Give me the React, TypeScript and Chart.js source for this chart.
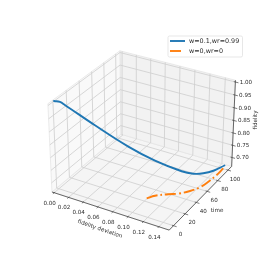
import React, { useEffect, useRef } from "react";
import { Chart, registerables } from "chart.js";

Chart.register(...registerables);

// Series
const blueDeviation = [-0.0016, 0.0036, 0.0073, 0.0312, 0.0618, 0.0876, 0.1139, 0.1253, 0.1344, 0.1423, 0.1482];
const blueTime = [0, 3, 6, 24, 41, 54, 67, 73, 79, 87, 100];
const blueFidelity = [1.0045, 0.9994, 0.9855, 0.8928, 0.8012, 0.7405, 0.6936, 0.6811, 0.6782, 0.6787, 0.678];
const orangeDeviation = [0.1039, 0.1094, 0.1212, 0.1305, 0.1396, 0.1459, 0.1488, 0.1505, 0.1504];
const orangeTime = [18.9, 25.9, 33.5, 38.6, 47.2, 56.7, 68.2, 81.5, 94.4];
const orangeFidelity = [0.6803, 0.6803, 0.6803, 0.6803, 0.6803, 0.6803, 0.6803, 0.6803, 0.6803];

// Axes
const xLim = [0, 0.15];
const yLim = [-5, 105];
const zLim = [0.67, 1.0];
const xTicks = [0, 0.02, 0.04, 0.06, 0.08, 0.1, 0.12, 0.14];
const yTicks = [0, 20, 40, 60, 80, 100];
const zTicks = [0.7, 0.75, 0.8, 0.85, 0.9, 0.95, 1.0];
const seriesNames = ["w=0.1,wr=0.99", "w=0,wr=0"];
const axisTitles = ["fidelity deviation", "time", "fidelity"];

const pad = (l: number[]) => (l[1] - l[0]) / 48;
const x0 = xLim[0] - pad(xLim), x1 = xLim[1] + pad(xLim);
const y0 = yLim[0] - pad(yLim), y1 = yLim[1] + pad(yLim);
const z0 = zLim[0] - pad(zLim), z1 = zLim[1] + pad(zLim);

// matplotlib's mplot3d view (elev 30, azim -60, dist 10, box aspect 4:4:3)
function project(x: number, y: number, z: number) {
  const X = (x - x0) / (x1 - x0) - 0.5;
  const Y = (y - y0) / (y1 - y0) - 0.5;
  const Z = (z - z0) / (z1 - z0) - 0.5;
  const xv = 0.99 * X + 0.5715 * Y;
  const yv = -0.2858 * X + 0.495 * Y + 0.742 * Z;
  const dv = 0.495 * X - 0.857 * Y + 0.4286 * Z;
  const d = 10 - dv;
  return { x: 143.4 + (1175 * xv) / d, y: 136.3 - (1175 * yv) / d };
}

type P3 = [number, number, number];
const path = (pts: P3[]) => pts.map((p) => project(p[0], p[1], p[2]));

const line = (pts: P3[], color: string, width: number, order: number) => ({
  data: path(pts),
  borderColor: color,
  borderWidth: width,
  pointRadius: 0,
  showLine: true,
  tension: 0,
  fill: false,
  order,
});

const pane = (pts: P3[], color: string, order: number) => ({
  data: path(pts),
  borderColor: "#e2e2e2",
  borderWidth: 0.7,
  backgroundColor: color,
  pointRadius: 0,
  showLine: true,
  tension: 0,
  fill: "shape",
  order,
});

const GRID = "#d0d0d0";
const AXIS = "#444444";
const TEXT = "#2a2a2a";

const textPlugin = {
  id: "mplText",
  afterDatasetsDraw(chart: any) {
    const ctx = chart.ctx as CanvasRenderingContext2D;
    const font = "5.6px 'DejaVu Sans'";
    ctx.save();
    ctx.fillStyle = TEXT;
    ctx.textAlign = "center";
    ctx.textBaseline = "middle";
    ctx.font = font;
    xTicks.forEach((t) => {
      const p = project(t, y0, z0);
      ctx.fillText(t.toFixed(2), p.x - 4.5, p.y + 10.5);
    });
    yTicks.forEach((t) => {
      const p = project(x1, t, z0);
      ctx.fillText(String(t), p.x + 7, p.y + 9);
    });
    zTicks.forEach((t) => {
      const p = project(x1, y1, t);
      ctx.fillText(t.toFixed(2), p.x + 10.5, p.y + 0.5);
    });
    const rotated = (s: string, x: number, y: number, deg: number) => {
      ctx.save();
      ctx.translate(x, y);
      ctx.rotate((deg * Math.PI) / 180);
      ctx.fillText(s, 0, 0);
      ctx.restore();
    };
    rotated(axisTitles[0], 100, 229, 19);
    rotated(axisTitles[1], 217, 211, 0);
    rotated(axisTitles[2], 256, 120, -90);

    // legend
    ctx.fillStyle = "rgba(255,255,255,0.8)";
    ctx.strokeStyle = "#dddddd";
    ctx.lineWidth = 0.7;
    ctx.beginPath();
    ctx.roundRect(168, 36, 74.5, 21, 1.5);
    ctx.fill();
    ctx.stroke();
    ctx.lineWidth = 1.9;
    ctx.strokeStyle = "#1f77b4";
    ctx.beginPath();
    ctx.moveTo(170, 41);
    ctx.lineTo(185, 41);
    ctx.stroke();
    ctx.strokeStyle = "#ff7f0e";
    ctx.beginPath();
    ctx.moveTo(170, 51);
    ctx.lineTo(181, 51);
    ctx.stroke();
    ctx.fillStyle = TEXT;
    ctx.font = "6.4px 'DejaVu Sans'";
    ctx.textAlign = "left";
    ctx.fillText(seriesNames[0], 189, 41);
    ctx.fillText(seriesNames[1], 189, 51);
    ctx.restore();
  },
};

export default function App() {
  const ref = useRef<HTMLCanvasElement>(null);
  useEffect(() => {
    const datasets: any[] = [];
    // panes
    datasets.push(pane([[x0, y0, z0], [x0, y1, z0], [x0, y1, z1], [x0, y0, z1], [x0, y0, z0]], "rgb(249,249,249)", 30));
    datasets.push(pane([[x0, y1, z0], [x1, y1, z0], [x1, y1, z1], [x0, y1, z1], [x0, y1, z0]], "rgb(242,242,242)", 30));
    datasets.push(pane([[x0, y0, z0], [x1, y0, z0], [x1, y1, z0], [x0, y1, z0], [x0, y0, z0]], "rgb(245,245,245)", 30));
    // grid
    xTicks.forEach((t) => datasets.push(line([[t, y0, z0], [t, y1, z0], [t, y1, z1]], GRID, 0.85, 20)));
    yTicks.forEach((t) => datasets.push(line([[x1, t, z0], [x0, t, z0], [x0, t, z1]], GRID, 0.85, 20)));
    zTicks.forEach((t) => datasets.push(line([[x0, y0, t], [x0, y1, t], [x1, y1, t]], GRID, 0.85, 20)));
    // axes
    datasets.push(line([[x0, y0, z0], [x1, y0, z0], [x1, y1, z0], [x1, y1, z1]], AXIS, 0.8, 10));
    xTicks.forEach((t) => datasets.push(line([[t, y0 - 2, z0], [t, y0 + 1, z0]], AXIS, 0.7, 10)));
    yTicks.forEach((t) => datasets.push(line([[x1 - 0.002, t, z0], [x1 + 0.004, t, z0]], AXIS, 0.7, 10)));
    zTicks.forEach((t) => datasets.push(line([[x1 - 0.002, y1, t], [x1 + 0.004, y1, t]], AXIS, 0.7, 10)));
    // series
    datasets.push({
      ...line(blueDeviation.map((v, i) => [v, blueTime[i], blueFidelity[i]] as P3), "#1f77b4", 1.9, 2),
      tension: 0.4,
      borderCapStyle: "round",
    });
    datasets.push({
      ...line(orangeDeviation.map((v, i) => [v, orangeTime[i], orangeFidelity[i]] as P3), "#ff7f0e", 1.9, 1),
      tension: 0.4,
      borderDash: [11, 3, 1.8, 3],
    });

    const chart = new Chart(ref.current as HTMLCanvasElement, {
      type: "scatter",
      data: { datasets },
      options: {
        animation: false,
        responsive: false,
        layout: { padding: 0 },
        plugins: { legend: { display: false }, tooltip: { enabled: false } },
        scales: {
          x: { type: "linear", min: 0, max: 274, display: false },
          y: { type: "linear", min: 0, max: 274, reverse: true, display: false },
        },
      },
      plugins: [textPlugin],
    } as any);
    return () => chart.destroy();
  }, []);
  return (
    <div style={{ position: "fixed", left: 0, top: 0, width: 274, height: 274, background: "#fff" }}>
      <canvas ref={ref} width={274} height={274} style={{ display: "block", width: 274, height: 274 }} />
    </div>
  );
}
